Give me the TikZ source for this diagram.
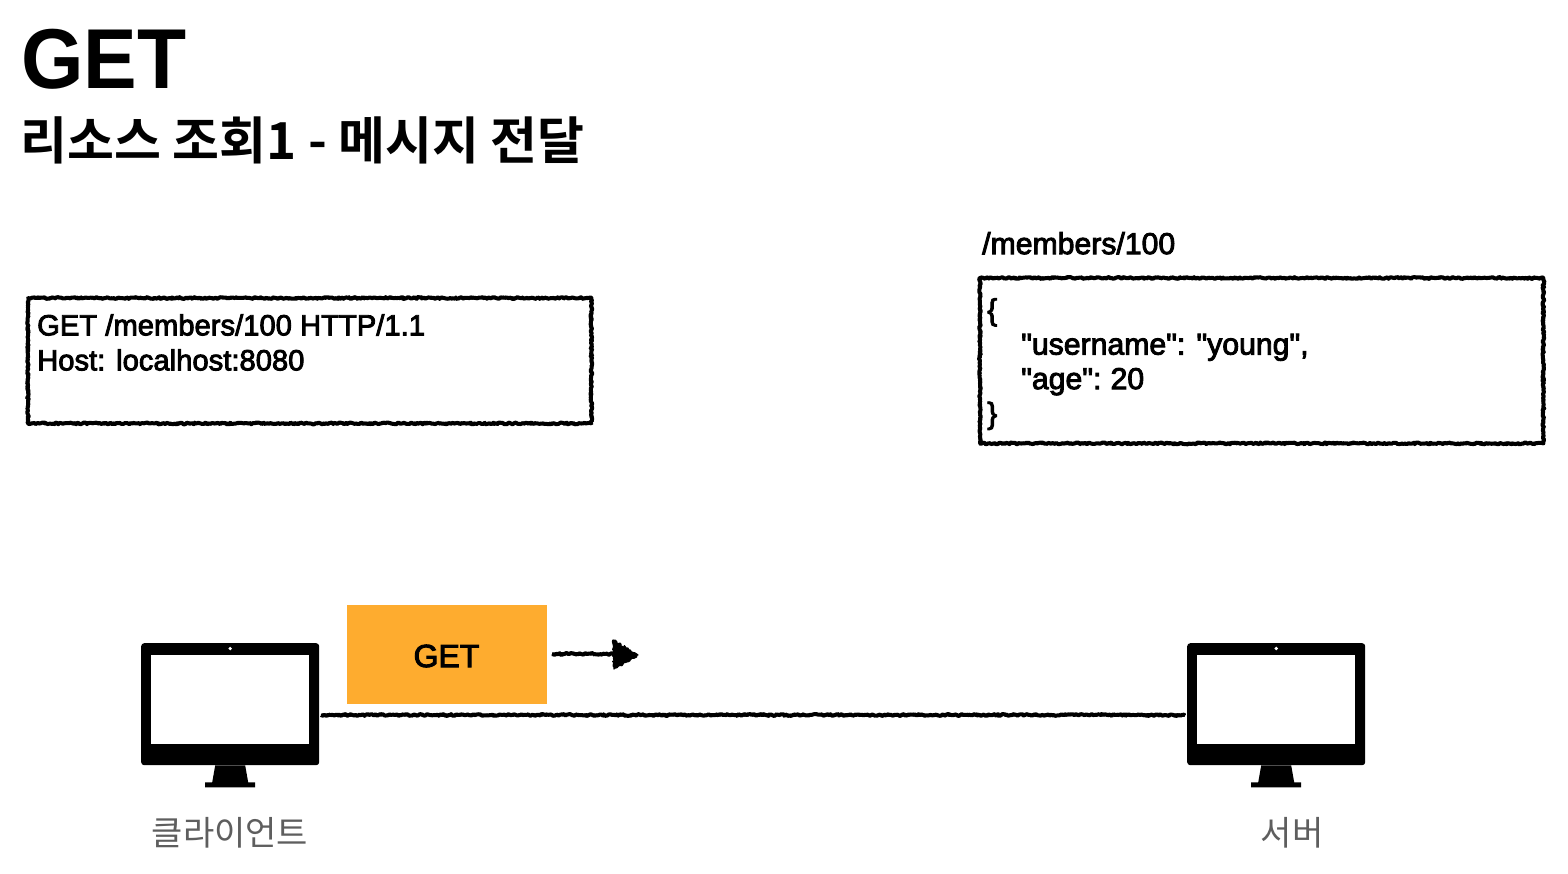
\documentclass[tikz,border=0pt]{standalone}
\usepackage{fontspec}
\setmainfont{Liberation Sans}
\newfontfamily\medfont[FakeBold=3]{Liberation Sans}
\newfontfamily\boldlat{Liberation Sans Bold}
\newfontfamily\krbold{Noto Sans CJK KR Bold}
\newfontfamily\kr{Noto Sans CJK KR}
\usetikzlibrary{decorations.pathmorphing,arrows.meta,positioning}
\definecolor{boxorange}{HTML}{FEAC2F}
\definecolor{labelgray}{HTML}{5E5E5E}
\tikzset{
  rough/.style={decorate,decoration={random steps,segment length=1.4pt,amplitude=0.9pt},draw=black,line width=4pt,line join=round},
  roughthin/.style={decorate,decoration={random steps,segment length=1.2pt,amplitude=1.1pt},draw=black,line width=1.8pt,line join=round},
  bodytext/.style={font=\medfont\fontsize{29.2}{35}\selectfont,anchor=north west,inner sep=0pt,align=left},
  monitorbody/.style={fill=black,rounded corners=3pt,draw=none,minimum width=178pt,minimum height=122pt,inner sep=0pt},
  graylabel/.style={font=\kr\fontsize{34}{40}\selectfont,text=labelgray,inner sep=0pt},
}
\newcommand{\monitor}[2]{%
  \node[monitorbody,anchor=north west] (#1) at (#2,643) {};
  \fill[white] ([xshift=10pt,yshift=-11.5pt]#1.north west) rectangle ([xshift=-10pt,yshift=21pt]#1.south east);
  \fill[white] ([yshift=-5.5pt]#1.north) circle (1.8pt);
  \fill[black] ([xshift=-15pt]#1.south) -- ([xshift=15pt]#1.south) -- ([xshift=18pt,yshift=-17pt]#1.south) -- ([xshift=25pt,yshift=-17pt]#1.south) -- ([xshift=25pt,yshift=-22pt]#1.south) -- ([xshift=-25pt,yshift=-22pt]#1.south) -- ([xshift=-25pt,yshift=-17pt]#1.south) -- ([xshift=-18pt,yshift=-17pt]#1.south) -- cycle;
}
\begin{document}
\begin{tikzpicture}[x=1pt,y=-1pt]
\useasboundingbox (0,0) rectangle (1568,874);
\node[font=\boldlat\fontsize{85}{85}\selectfont,anchor=base west,inner sep=0pt,xscale=0.945] (title) at (21,89) {GET};
\node[font=\krbold\fontsize{51}{54}\selectfont,anchor=base west,inner sep=0pt] (subtitle) at (20,160) {리소스 조회1 - 메시지 전달};

% request box
\node[draw=none,minimum width=563pt,minimum height=125pt,inner sep=0pt,anchor=north west] (req) at (28,298) {};
\draw[rough] (req.north west) rectangle (req.south east);
\draw[roughthin] (req.north west) rectangle (req.south east);
\node[bodytext] (reqtext) at (37,314) {GET /members/100 HTTP/1.1\\Host: localhost:8080};

% resource label and box
\node[bodytext,font=\medfont\fontsize{30.2}{35}\selectfont] (path) at (982,232) {/members/100};
\node[draw=none,minimum width=563pt,minimum height=165pt,inner sep=0pt,anchor=north west] (res) at (980,278) {};
\draw[rough] (res.north west) rectangle (res.south east);
\draw[roughthin] (res.north west) rectangle (res.south east);
\node[bodytext,font=\medfont\fontsize{30.2}{34.5}\selectfont] (restext) at (987,298) {\{\\\hspace*{34pt}"username": "young",\\\hspace*{34pt}"age":\hspace{-2pt} 20\\\}};

% monitors
\monitor{client}{141}
\monitor{server}{1187}
\node[graylabel] (clientlabel) at (230,833) {클라이언트};
\node[graylabel] (serverlabel) at (1292,833) {서버};

% connection
\draw[rough] ([xshift=2pt]client.east |- 0,715) -- ([xshift=-2pt]server.west |- 0,715);
\draw[roughthin] ([xshift=2pt]client.east |- 0,715) -- ([xshift=-2pt]server.west |- 0,715);

% GET packet
\node[fill=boxorange,draw=none,minimum width=200pt,minimum height=99pt,inner sep=0pt,anchor=north west] (packet) at (347,604.5) {};
\node[font=\medfont\fontsize{32}{36}\selectfont,inner sep=0pt] (packetlabel) at (446.5,656) {GET};
\coordinate (arrowstart) at (552,654);
\coordinate (arrowend) at (614,654);
\coordinate (arrowtip) at (638,655);
\draw[rough] (arrowstart) -- (arrowend);
\draw[roughthin] (arrowstart) -- (arrowend);
\draw[decorate,decoration={random steps,segment length=1.5pt,amplitude=1.1pt},fill=black,draw=black,line width=1.2pt,line join=round] (613,640) -- (arrowtip) -- (614,669) -- cycle;
\end{tikzpicture}
\end{document}
